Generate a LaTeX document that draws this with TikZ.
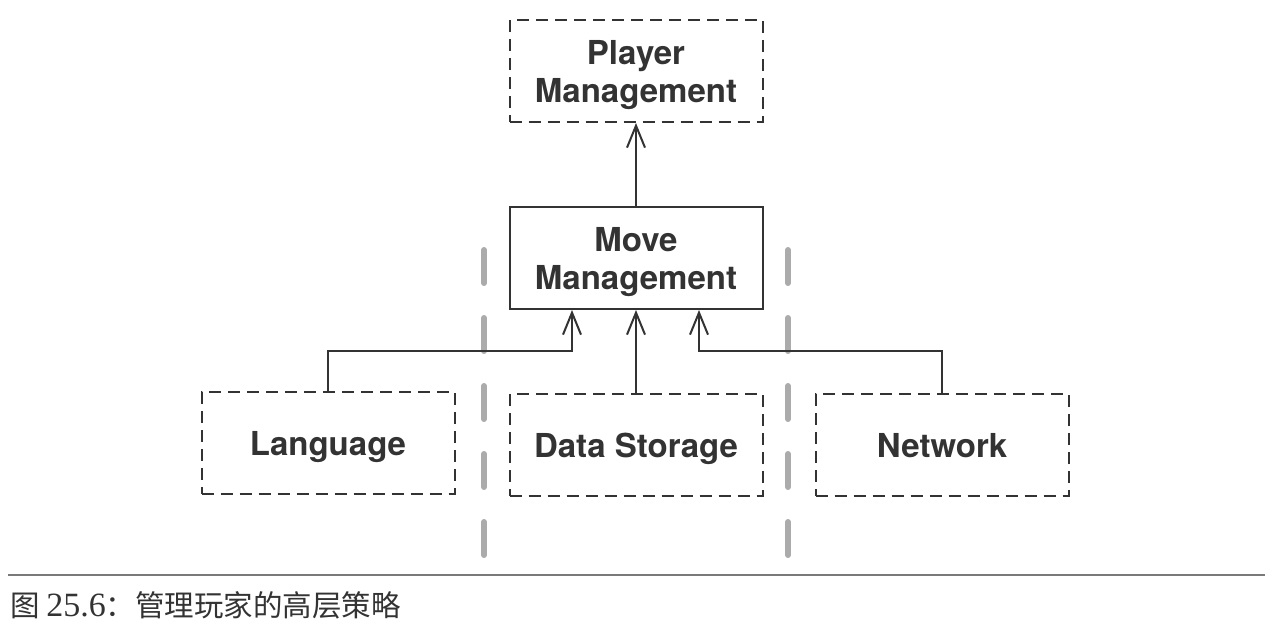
\documentclass[tikz,border=0pt]{standalone}
\usepackage{fontspec}
\setmainfont{TeX Gyre Heros}
\newfontfamily\cjk{Noto Sans CJK SC}
\newfontfamily\capserif{Liberation Serif}
\usetikzlibrary{arrows.meta}
\definecolor{inkgray}{HTML}{333333}
\definecolor{railgray}{HTML}{ABABAB}
\definecolor{rulegray}{HTML}{7A7A7A}

\begin{document}
\begin{tikzpicture}[x=1pt,y=-1pt,
	box/.style={draw=inkgray,line width=2pt,minimum width=253pt,minimum height=102pt,
		inner sep=0pt,text depth=0pt,align=center,text=inkgray,font=\fontsize{33}{38}\selectfont\bfseries},
	dbox/.style={box,dash pattern=on 12pt off 7pt},
	link/.style={draw=inkgray,line width=2pt,-{Straight Barb[length=22pt,width=18pt,line width=2pt]}},
	rail/.style={draw=railgray,line width=6pt,line cap=round,dash pattern=on 33pt off 35pt}]
\useasboundingbox (0,0) rectangle (1278,640);

% boxes
\node[dbox] (player) at (636,71) {Player\\Management};
\node[box] (move) at (636,258) {Move\\Management};
\node[dbox] (lang) at (328,443) {Language};
\node[dbox] (data) at (636,445) {Data Storage};
\node[dbox] (net) at (942,445) {Network};

% layer separators
\foreach \x in {484,788}{
	\draw[rail] (\x,250) -- (\x,560);
}

% connectors
\draw[link] (move) -- (player);
\draw[link] (data) -- (move);
\draw[link] (lang.north) -- (lang.north |- 0,351) -| ([xshift=-64pt]move.south);
\draw[link] (net.north) -- (net.north |- 0,351) -| ([xshift=63pt]move.south);

% caption
\draw[rulegray,line width=1.5pt] (8,575) -- (1265,575);
\node[anchor=west,inner sep=0pt,text=inkgray,font=\fontsize{29.5}{34}\selectfont] (caption) at (10,605)
	{\cjk 图 {\capserif\fontsize{34}{38}\selectfont 25.6}\cjk ：管理玩家的高层策略};

\end{tikzpicture}
\end{document}
